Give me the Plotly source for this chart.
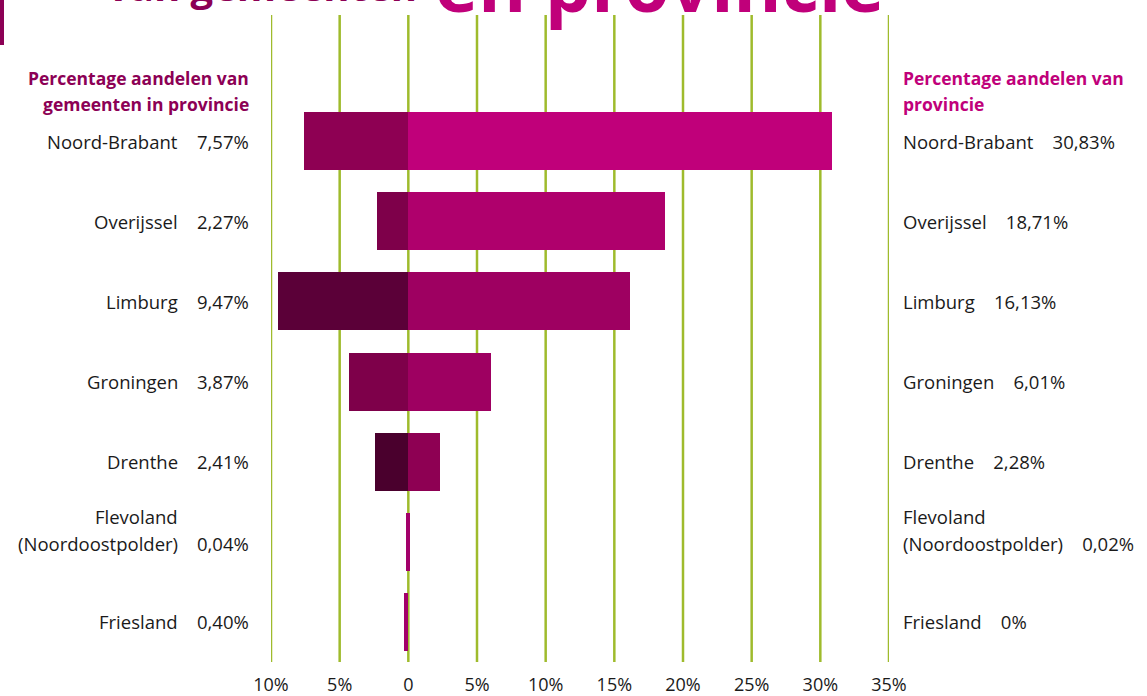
import plotly.graph_objects as go

# ---------------- data ----------------
provinces = ["Noord-Brabant", "Overijssel", "Limburg", "Groningen", "Drenthe",
             "Flevoland<br>(Noordoostpolder)", "Friesland"]
# share of municipalities in province (left side)
left_bar_pct = [7.57, 2.27, 9.47, 4.3, 2.41, 0.15, 0.3]
left_labels = ["7,57%", "2,27%", "9,47%", "3,87%", "2,41%", "0,04%", "0,40%"]
# share of province (right side)
right_bar_pct = [30.83, 18.71, 16.13, 6.01, 2.28, 0.15, 0.0]
right_labels = ["30,83%", "18,71%", "16,13%", "6,01%", "2,28%", "0,02%", "0%"]

tick_vals = [-10, -5, 0, 5, 10, 15, 20, 25, 30, 35]
tick_text = ["10%", "5%", "0", "5%", "10%", "15%", "20%", "25%", "30%", "35%"]

left_heading = ["Percentage aandelen van", "gemeenten in provincie"]
right_heading = ["Percentage aandelen van", "provincie"]

left_colors = ["#8E0053", "#7E004A", "#5B0038", "#7E004A", "#4A002D", "#A2006A", "#A2006A"]
right_colors = ["#C0007A", "#AF006C", "#9E0061", "#9E0061", "#8E0053", "#A2006A", "#A2006A"]

# ---------------- layout helpers ----------------
W, H = 1147, 696
L, R = 271, 889          # plot area in px (x)
T, B = 15, 662           # plot area in px (y)
FONT = "Open Sans"
TXT = "#1a1a1a"
DARK = "#8C0055"
MAG = "#C0007A"
GRID = "#9FBB2C"
FS = 18.5
LINE = 27                # line spacing in px

def px_x(px):
    return (px - L) / (R - L)

def px_y(py):
    return (B - py) / (B - T)

fig = go.Figure()
fig.add_trace(go.Bar(
    y=provinces, x=[-v for v in left_bar_pct], orientation="h",
    marker=dict(color=left_colors, line=dict(width=0)), width=0.725,
    hoverinfo="skip", showlegend=False))
fig.add_trace(go.Bar(
    y=provinces, x=right_bar_pct, orientation="h",
    marker=dict(color=right_colors, line=dict(width=0)), width=0.725,
    hoverinfo="skip", showlegend=False))

annotations = []
nb = "\u00a0" * 4

def txt(x, y, text, anchor, color=TXT, size=FS, yref="y", yshift=0):
    annotations.append(dict(
        x=x, xref="paper", y=y, yref=yref, text=text, showarrow=False,
        xanchor=anchor, yanchor="middle", align=anchor, yshift=yshift,
        font=dict(family=FONT, size=size, color=color)))

for i, p in enumerate(provinces):
    lines = p.split("<br>")
    n = len(lines)
    for j, ln in enumerate(lines):
        shift = (n - 1 - j) * LINE - (2 if n > 1 else 0)
        txt(px_x(180), p, ln, "right", yshift=shift)
        rtext = ln + (nb + right_labels[i] if j == n - 1 else "")
        txt(px_x(901), p, rtext, "left", yshift=shift)
    txt(px_x(251), p, left_labels[i], "right", yshift=-2 if n > 1 else 0)

for j, ln in enumerate(left_heading):
    txt(px_x(251), px_y(78 + j * 26), "<b>" + ln + "</b>", "right",
        color=DARK, size=17.5, yref="paper")
for j, ln in enumerate(right_heading):
    txt(px_x(901), px_y(78 + j * 26), "<b>" + ln + "</b>", "left",
        color=MAG, size=17.5, yref="paper")

# cut-off title at the top of the page
txt(px_x(419), px_y(-15), "<b>van gemeenten</b>", "right", color=DARK, size=40, yref="paper")
txt(px_x(659), px_y(-16.5), "<b>en provincie</b>", "center", color=MAG, size=73, yref="paper")

shapes = [dict(type="rect", xref="paper", yref="paper",
               x0=px_x(0), x1=px_x(4), y0=px_y(0), y1=px_y(45),
               fillcolor=DARK, line=dict(width=0))]
for v in tick_vals:
    shapes.append(dict(type="line", xref="x", yref="paper", x0=v, x1=v, y0=0, y1=1,
                       line=dict(color=GRID, width=2.5), layer="below"))

fig.update_layout(
    width=W, height=H,
    margin=dict(l=L, r=W - R, t=T, b=H - B, pad=0, autoexpand=False),
    paper_bgcolor="white", plot_bgcolor="white",
    barmode="relative", bargap=0,
    annotations=annotations, shapes=shapes,
    font=dict(family=FONT, size=FS, color=TXT),
)
fig.update_xaxes(
    range=[-10, 35], tickvals=tick_vals, ticktext=tick_text,
    showgrid=False, zeroline=False, automargin=False,
    showline=False, ticks="outside", ticklen=6, tickcolor="rgba(0,0,0,0)",
    tickfont=dict(family="Liberation Sans Narrow, Open Sans", size=18, color=TXT),
    fixedrange=True)
fig.update_yaxes(
    range=[6.5, -1.575], showticklabels=False, showgrid=False, zeroline=False,
    showline=False, automargin=False, fixedrange=True)

fig.write_html("out.html", config={"displayModeBar": False},
               post_script="document.body.style.margin='0';document.body.style.padding='0';document.body.style.overflow='hidden';")
